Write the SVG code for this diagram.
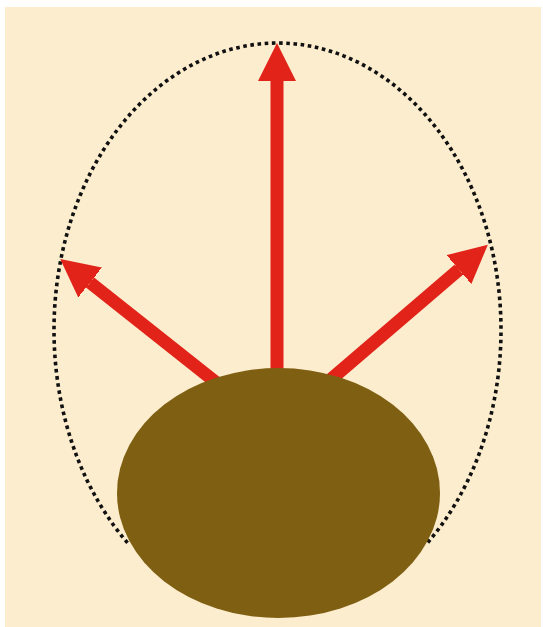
<svg xmlns="http://www.w3.org/2000/svg" width="543" height="627" viewBox="0 0 543 627">
  <style>
    .bg { fill: #FCEDCE; }
    .boundary { fill: none; stroke: #111111; stroke-width: 3.6; stroke-dasharray: 3.6 3.6; }
    .ray { stroke: #E2231A; stroke-width: 13; fill: none; marker-end: url(#head); }
    .body { fill: #7F5F11; }
  </style>
  <defs>
    <marker id="head" markerUnits="userSpaceOnUse" markerWidth="44" markerHeight="44" refX="0" refY="19.5" orient="auto" viewBox="0 0 44 44">
      <path d="M-1,0 L38,19.5 L-1,39 Z" fill="#E2231A"/>
    </marker>
  </defs>
  <rect width="543" height="627" fill="#ffffff"/>
  <rect class="bg" x="5" y="7" width="536" height="620"/>
  <g id="boundary">
    <path class="boundary" d="M127.5,542.8 A223.5,287 0 1 1 427.5,542.8"/>
  </g>
  <g id="connectors">
    <line class="ray" x1="277" y1="420" x2="277" y2="81"/>
    <line class="ray" x1="245.8" y1="406" x2="90" y2="282.5"/>
    <line class="ray" x1="308" y1="399" x2="459" y2="269.5"/>
  </g>
  <g id="body">
    <ellipse class="body" cx="278.5" cy="493" rx="161.5" ry="125"/>
  </g>
</svg>
